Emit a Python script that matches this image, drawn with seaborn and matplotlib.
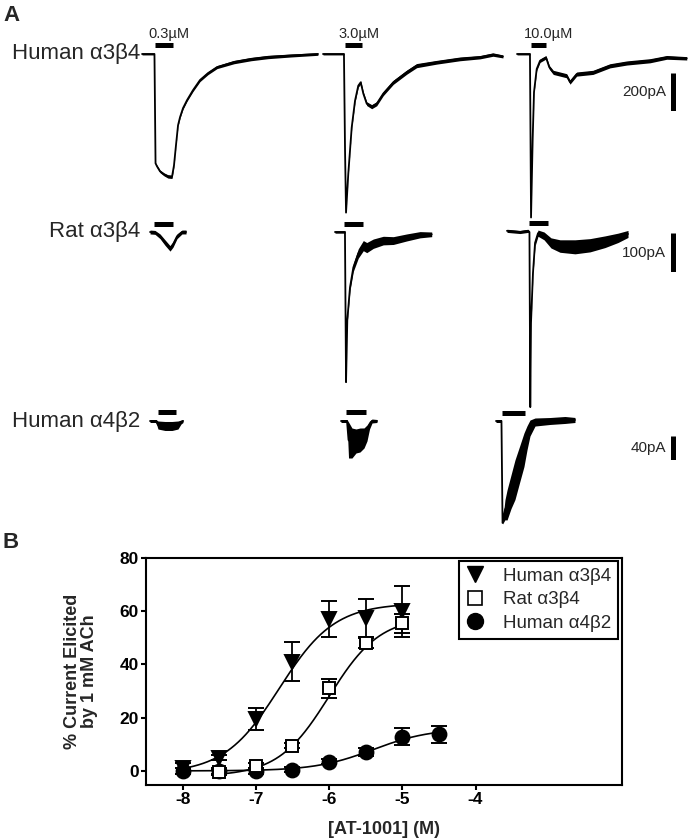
import numpy as np
import matplotlib
matplotlib.use("Agg")
import matplotlib.pyplot as plt
from matplotlib.lines import Line2D
import seaborn as sns

# ---------------- panel A: current traces (t in s, current in pA) ----------------
receptor_labels = ["Human \u03b13\u03b24", "Rat \u03b13\u03b24", "Human \u03b14\u03b22"]
conc_labels = ["0.3\u00b5M", "3.0\u00b5M", "10.0\u00b5M"]
scale_bar_pA = [200, 100, 40]

# human a3b4
h34_03_t = [-1.44, -0.06, 0.06, 0.22, 0.56, 1.0, 1.44, 1.89, 2.11, 2.33, 2.56, 2.78, 3.11, 3.56, 4.22, 5.0, 5.89, 6.89, 8.78, 10.67, 12.56, 15.1, 18.1]
h34_03_i = [0, 0, -583, -599, -626, -642, -653, -655, -594, -487, -380, -337, -289, -246, -193, -139, -102, -70, -43, -27, -16, -8, 0]
h34_03_n = [5, 5, 3, 6, 7, 8, 9, 9, 4, 3, 4, 5, 6, 6, 7, 8, 8, 8, 9, 9, 9, 8, 7]

h34_30_t = [-2.39, -0.06, 0.06, 0.17, 0.42, 0.8, 1.17, 1.53, 1.8, 2.09, 2.47, 3.02, 3.58, 4.31, 5.42, 6.91, 8.02, 10.24, 12.83, 15.06, 16.5, 17.6]
h34_30_i = [0, 0, -516, -846, -639, -392, -249, -169, -151, -211, -265, -281, -265, -211, -151, -97, -62, -44, -26, -17, -3, -13]
h34_30_n = [5, 5, 2, 2, 4, 6, 7, 8, 9, 9, 10, 11, 11, 11, 11, 11, 11, 10, 10, 9, 9, 8]

h34_100_t = [-1.5, -0.06, 0.06, 0.24, 0.39, 0.69, 1.06, 1.72, 2.09, 2.53, 4.02, 4.39, 5.13, 6.94, 8.83, 10.69, 13.28, 15.14, 17.36]
h34_100_i = [0, 0, -872, -455, -203, -80, -36, -18, -71, -98, -116, -150, -107, -98, -63, -48, -36, -18, -23]
h34_100_n = [5, 5, 2, 3, 6, 8, 9, 9, 10, 11, 11, 11, 11, 11, 11, 11, 11, 10, 9]

# rat a3b4
r34_03_t = [-0.44, 0.11, 0.67, 1.22, 1.78, 2.11, 2.56, 3.11, 3.56]
r34_03_i = [0, -1, -11, -27, -42, -32, -11, 0, 0]
r34_03_n = [5, 5, 6, 7, 7, 7, 6, 5, 5]

r34_30_t = [-1.17, -0.06, 0.06, 0.2, 0.5, 0.87, 1.42, 1.98, 2.36, 3.09, 4.2, 5.31, 6.8, 8.28, 9.58]
r34_30_i = [0, 0, -385, -226, -142, -91, -55, -35, -40, -30, -22, -22, -14, -7, -6]
r34_30_n = [3, 3, 2, 4, 8, 10, 12, 13, 13, 12, 11, 10, 9, 8, 6]

r34_100_t = [-2.56, -1.11, -0.22, -0.06, 0.03, 0.11, 0.33, 0.56, 0.89, 1.56, 2.33, 3.33, 5.0, 6.67, 8.33, 9.78, 10.89]
r34_100_i = [3, 0, 3, 0, -449, -233, -105, -28, -3, -10, -28, -36, -38, -34, -25, -15, -5]
r34_100_n = [4, 4, 4, 2, 2, 4, 5, 8, 8, 10, 13, 16, 18, 17, 15, 12, 9]

# human a4b2
h42_03_t = [-0.78, -0.11, 0.11, 0.89, 1.67, 2.33, 2.67, 2.89]
h42_03_i = [0, 0, -6.7, -8.3, -8.3, -6.7, -1.7, 0]
h42_03_n = [2.5, 2.5, 6.7, 7.5, 7.5, 6.7, 3.3, 2.5]

h42_30_t = [-0.78, -0.11, 0.06, 0.44, 0.89, 1.33, 1.78, 2.11, 2.39, 2.67, 3.22]
h42_30_i = [0, 0, -31.7, -36.7, -33.3, -31.7, -28.3, -20, -6.7, 0, 0]
h42_30_n = [2.5, 2.5, 30, 25, 20, 20, 16.7, 13.3, 6.7, 3.3, 2.5]

h42_100_t = [-0.67, -0.06, 0.06, 0.33, 0.56, 1.0, 1.44, 2.0, 2.44, 2.78, 3.11, 3.67, 5.33, 7.0, 8.11]
h42_100_i = [0, 0, -170, -148, -140, -118, -98, -70, -48, -28, -11.7, -1.7, 0, 1.7, 1.7]
h42_100_n = [2.5, 2.5, 1.7, 16.7, 25, 28, 33, 30, 28, 20, 13.3, 6.7, 5.8, 5.8, 4.2]

# drug application bars (start, stop in s) for each trace
bar_on = [[0, 0.05, 0], [0, -0.17, -0.11], [0.11, -0.22, 0]]
bar_off = [[2.0, 1.94, 1.72], [2.1, 1.94, 2.0], [2.1, 2.0, 2.56]]

# ---------------- panel B: concentration-response ----------------
logc_h34 = [-8, -7.5, -7, -6.5, -6, -5.5, -5]
h34_mean = [1, 5, 19.5, 41, 57, 57.5, 60]
h34_sem = [2, 1, 4, 7.4, 6.8, 7, 9.5]

logc_r34 = [-7.5, -7, -6.5, -6, -5.5, -5]
r34_mean = [-0.5, 2, 9.5, 31, 48, 55.5]
r34_sem = [1, 1, 1, 3.6, 2, 3.5]

logc_h42 = [-8, -7.5, -7, -6.5, -6, -5.5, -5, -4.5]
h42_mean = [0, 0, 0, 0.5, 3.5, 7, 12.9, 13.7]
h42_sem = [1, 1, 1, 1, 1, 1.5, 3.1, 3.3]

# fitted Hill parameters: bottom, top, logEC50, slope
fit_h34 = (-1, 63, -6.68, 1.15)
fit_r34 = (-2, 58, -6.0, 1.25)
fit_h42 = (0, 16, -5.4, 1.1)

# ---------------- figure ----------------
sns.set_style("ticks")
plt.rcParams['font.family'] = ['Liberation Sans', 'DejaVu Sans']

W, H = 690, 838
SX = 9.0  # px per second in panel A
fig = plt.figure(figsize=(W / 100, H / 100), dpi=100)


def px_axes(x0, y0, sy, tlim, ilim):
    """Axes whose data origin (t=0, I=0) sits at pixel (x0, y0)."""
    left = x0 + tlim[0] * SX
    right = x0 + tlim[1] * SX
    top = y0 - ilim[1] * sy
    bottom = y0 - ilim[0] * sy
    ax = fig.add_axes([left / W, 1 - bottom / H, (right - left) / W, (bottom - top) / H])
    ax.set_xlim(tlim)
    ax.set_ylim(ilim)
    ax.axis('off')
    return ax


traces = [
    [(h34_03_t, h34_03_i, h34_03_n), (h34_30_t, h34_30_i, h34_30_n), (h34_100_t, h34_100_i, h34_100_n)],
    [(r34_03_t, r34_03_i, r34_03_n), (r34_30_t, r34_30_i, r34_30_n), (r34_100_t, r34_100_i, r34_100_n)],
    [(h42_03_t, h42_03_i, h42_03_n), (h42_30_t, h42_30_i, h42_30_n), (h42_100_t, h42_100_i, h42_100_n)],
]
row_y0 = [54, 232, 421]
row_sy = [37.5 / 200, 39 / 100, 24 / 40]  # px per pA, from the scale bars
trace_x0 = [[155, 344.5, 530.5], [154, 345.5, 530], [157, 348, 502]]
bar_bottom = [110.7, 272, 460]

for r in range(3):
    sy = row_sy[r]
    bar_lvl = 8.5 / sy
    for c in range(3):
        t, i, n = (np.array(v, dtype=float) for v in traces[r][c])
        tlim = (t.min() - 1, t.max() + 1)
        ilim = (i.min() - n.max() - 20, bar_lvl + 40)
        ax = px_axes(trace_x0[r][c], row_y0[r], sy, tlim, ilim)
        ax.fill_between(t, i - n, i + n, color='black', lw=0)
        ax.plot(t, i, color='black', lw=1.3)
        ax.plot([bar_on[r][c], bar_off[r][c]], [bar_lvl, bar_lvl], color='black',
                lw=3.6, solid_capstyle='butt')
        if r == 0:
            ax.annotate(conc_labels[c], xy=(bar_on[r][c], bar_lvl), xytext=(-5, 3),
                        textcoords='offset points', ha='left', va='bottom', fontsize=10.5)
    fig.text(140 / W, 1 - row_y0[r] / H, receptor_labels[r], ha='right', va='center',
             fontsize=16)
    # scale bar
    sb = px_axes(673, bar_bottom[r], sy, (-0.5, 0.5), (0, scale_bar_pA[r]))
    sb.plot([0, 0], [0, scale_bar_pA[r]], color='black', lw=3.6, solid_capstyle='butt')
    sb.annotate(f"{scale_bar_pA[r]}pA", xy=(0, scale_bar_pA[r] / 2), xytext=(-5, 0),
                textcoords='offset points', ha='right', va='center', fontsize=11)

fig.text(3 / W, 1 - 5 / H, "A", fontsize=16, fontweight='bold', va='top', ha='left')
fig.text(3 / W, 1 - 532 / H, "B", fontsize=16, fontweight='bold', va='top', ha='left')


# ---------------- panel B ----------------
def hill(x, bottom, top, logec50, slope):
    return bottom + (top - bottom) / (1 + 10 ** ((logec50 - x) * slope))


axb = fig.add_axes([146 / W, 1 - 785 / H, 476 / W, 227 / H])

series = [
    (logc_h42, h42_mean, h42_sem, fit_h42, 'o', 'black', 10, 3),
    (logc_h34, h34_mean, h34_sem, fit_h34, 'v', 'black', 10.5, 4),
    (logc_r34, r34_mean, r34_sem, fit_r34, 's', 'white', 9, 5),
]
for x, y, e, fit, mk, face, ms, z in series:
    xs = np.linspace(min(x), max(x), 300)
    sns.lineplot(x=xs, y=hill(xs, *fit), ax=axb, color='black', lw=1.2, zorder=2)
    axb.errorbar(x, y, yerr=e, fmt=mk, ms=ms, mfc=face, mec='black', mew=1.4,
                 ecolor='black', elinewidth=1.3, capsize=5.5, capthick=1.3, zorder=z)

axb.set_xlim(-8.5, -2.0)
axb.set_ylim(-5.3, 80)
axb.set_xticks([-8, -7, -6, -5, -4])
axb.set_yticks([0, 20, 40, 60, 80])
axb.set_xticklabels(['-8', '-7', '-6', '-5', '-4'])
for s in axb.spines.values():
    s.set_linewidth(1.5)
    s.set_color('black')
axb.tick_params(direction='out', length=3.5, width=1.5, labelsize=12.5, pad=1.5, colors='black')
plt.setp(axb.get_xticklabels() + axb.get_yticklabels(), fontweight='bold')
axb.set_xlabel('[AT-1001] (M)', fontsize=13, fontweight='bold', labelpad=10)
axb.set_ylabel('% Current Elicited\nby 1 mM ACh', fontsize=13, fontweight='bold',
               linespacing=1.05)
axb.yaxis.set_label_coords(-0.1, 0.5)

handles = [
    Line2D([], [], ls='none', marker='v', ms=12, mfc='black', mec='black'),
    Line2D([], [], ls='none', marker='s', ms=10.5, mfc='white', mec='black', mew=1.2),
    Line2D([], [], ls='none', marker='o', ms=11.5, mfc='black', mec='black'),
]
leg = axb.legend(handles, ["Human \u03b13\u03b24", "Rat \u03b13\u03b24", "Human \u03b14\u03b22"],
                 loc='upper right', bbox_to_anchor=(0.992, 0.987), borderaxespad=0,
                 fontsize=13.5, frameon=True, fancybox=False, framealpha=1,
                 edgecolor='black', handlelength=1.0, handletextpad=1.0,
                 labelspacing=0.35, borderpad=0.35)
leg.get_frame().set_linewidth(1.5)

fig.savefig('out.png', dpi=100)
